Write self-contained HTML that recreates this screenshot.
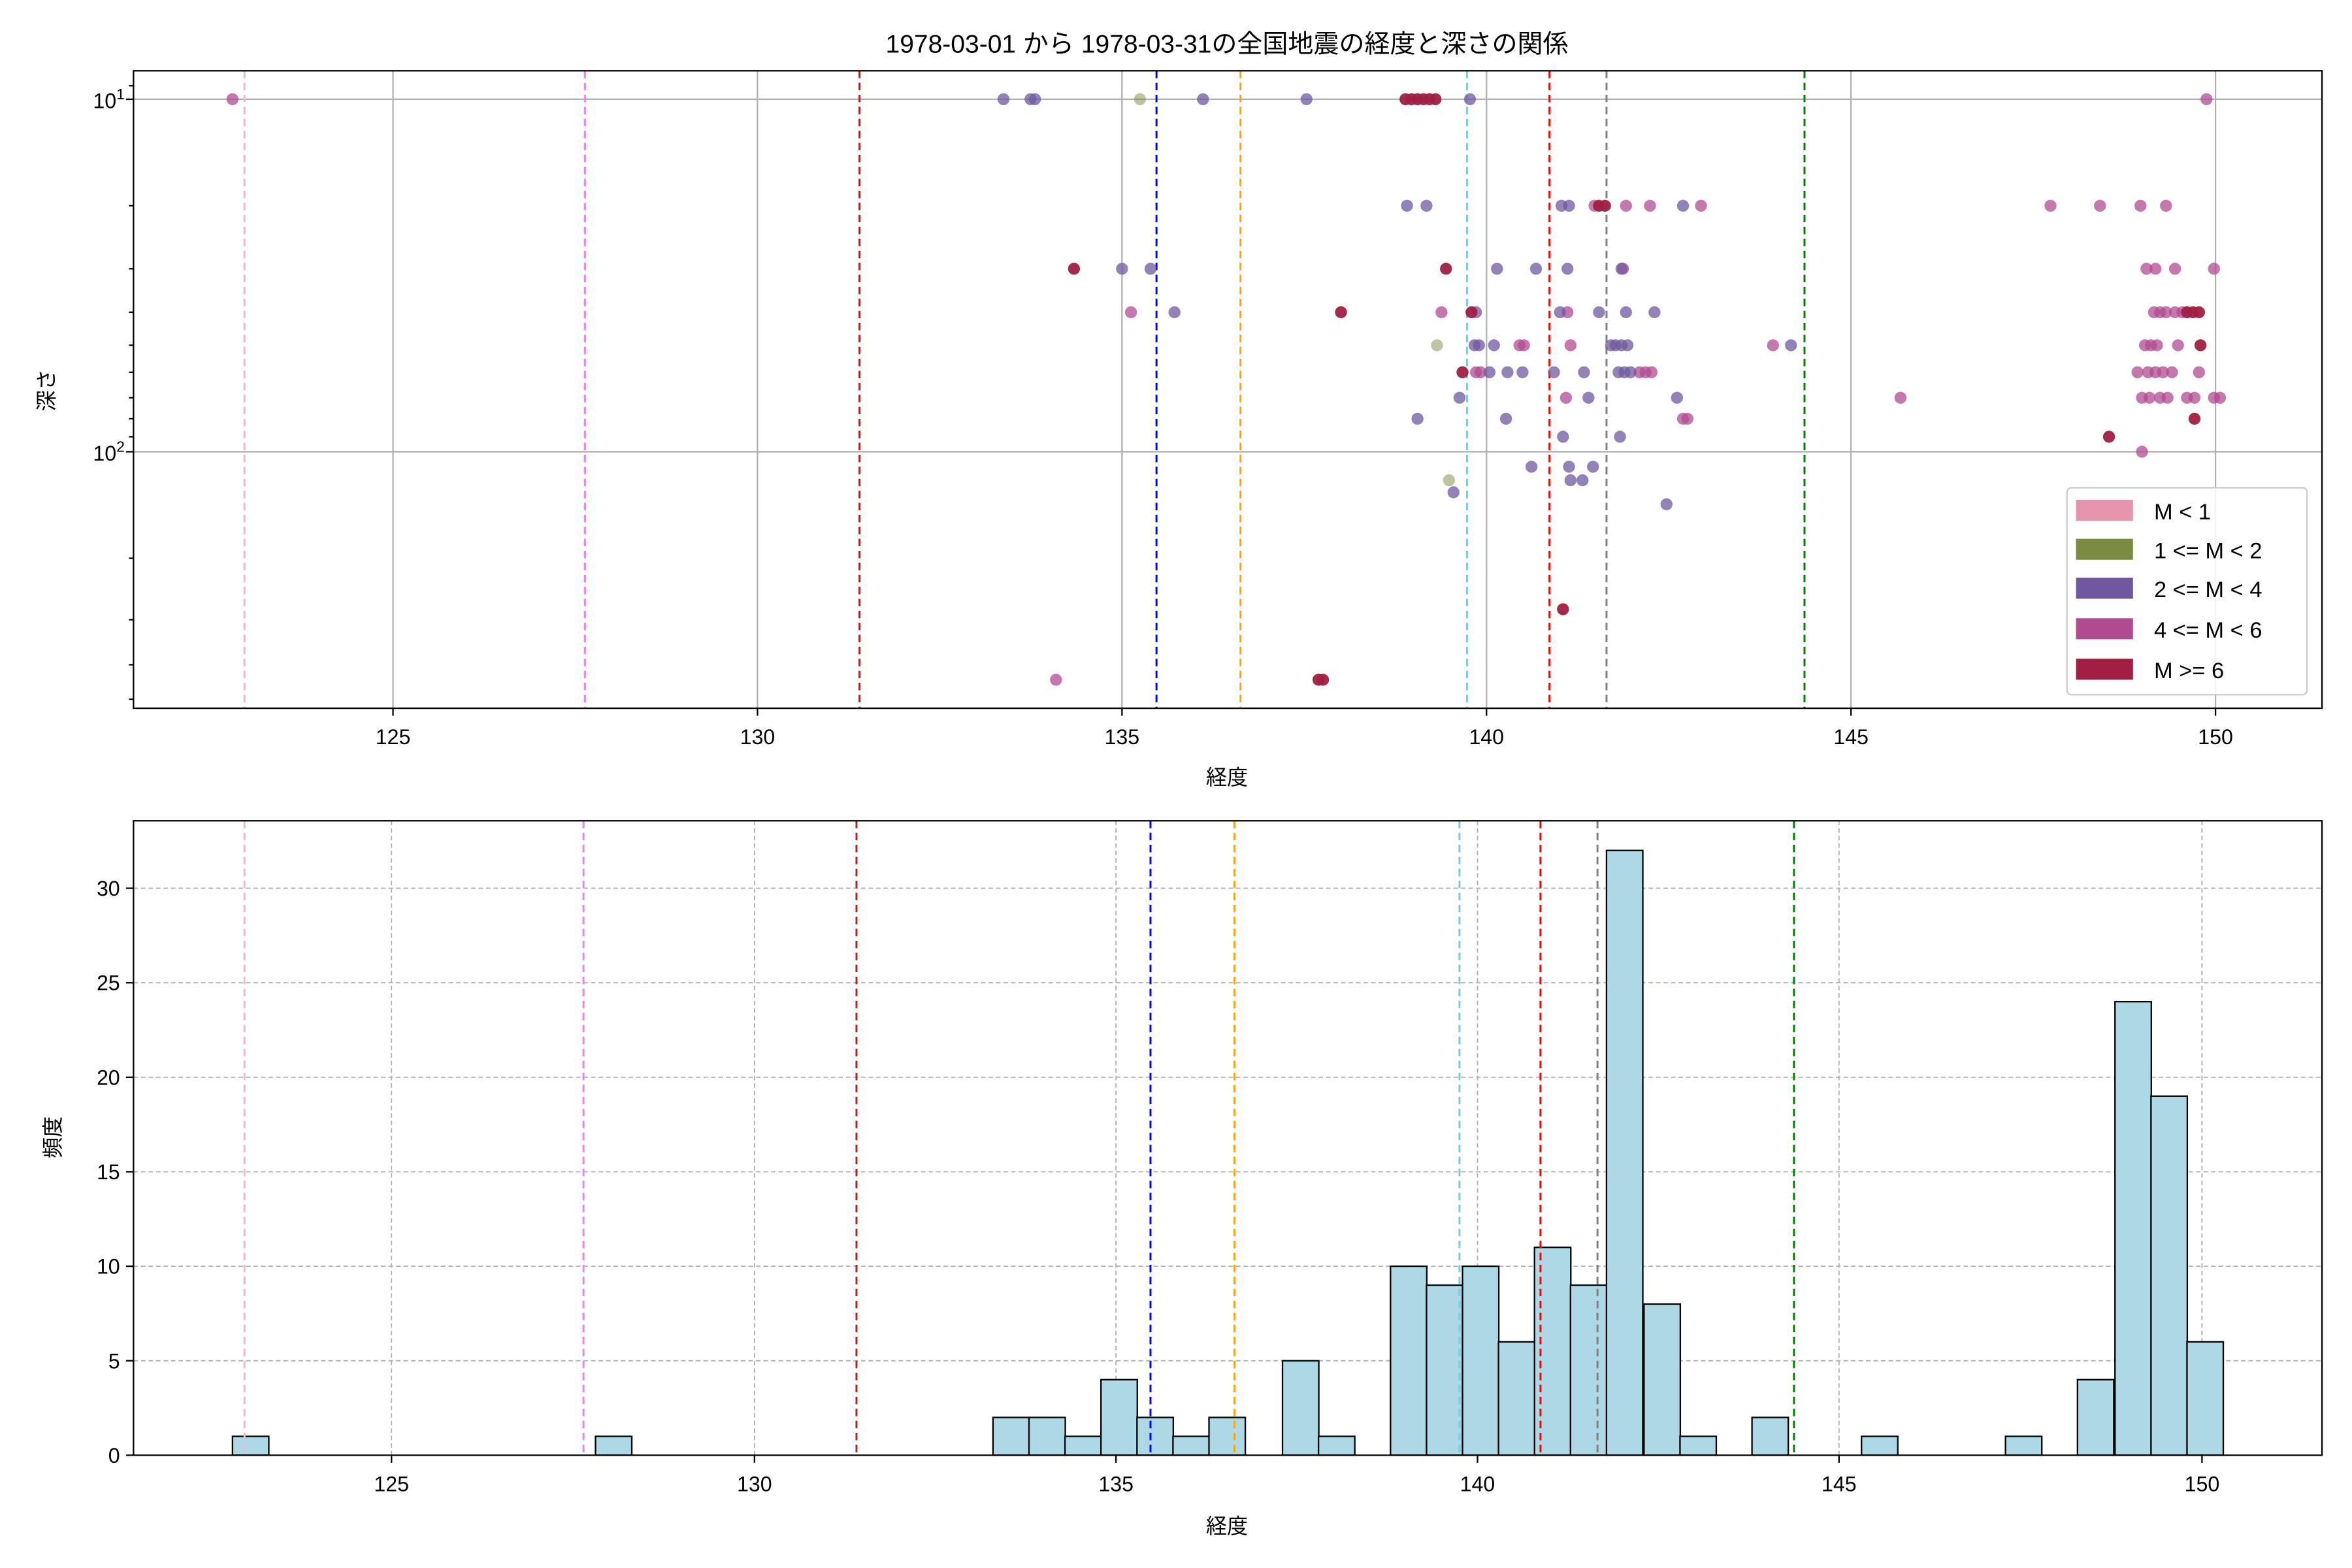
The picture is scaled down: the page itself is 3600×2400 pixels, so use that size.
<!DOCTYPE html>
<html><head><meta charset="utf-8"><style>html,body{margin:0;padding:0;background:#fff}svg{display:block}text{font-family:"Liberation Sans","Noto Sans CJK JP",sans-serif;fill:#000}</style></head>
<body>
<svg width="3600" height="2400" viewBox="0 0 1568 1045" xmlns="http://www.w3.org/2000/svg">
<rect width="1568" height="1045" fill="#fff"/>
<text x="818" y="35" font-size="17" text-anchor="middle">1978-03-01 から 1978-03-31の全国地震の経度と深さの関係</text>
<!-- TOP grid -->
<g stroke="#b0b0b0" stroke-width="1">
<line x1="262" y1="47" x2="262" y2="472"/><line x1="505" y1="47" x2="505" y2="472"/><line x1="748" y1="47" x2="748" y2="472"/><line x1="991" y1="47" x2="991" y2="472"/><line x1="1234" y1="47" x2="1234" y2="472"/><line x1="1477" y1="47" x2="1477" y2="472"/>
<line x1="89" y1="66" x2="1548" y2="66"/><line x1="89" y1="301" x2="1548" y2="301"/>
</g>
<g stroke-width="1.3" stroke-dasharray="5,3">
<line x1="163" y1="47" x2="163" y2="472" stroke="#f6b6cd"/><line x1="390" y1="47" x2="390" y2="472" stroke="#ee82ee"/><line x1="573" y1="47" x2="573" y2="472" stroke="#b22222"/><line x1="771" y1="47" x2="771" y2="472" stroke="#0000ff"/><line x1="827" y1="47" x2="827" y2="472" stroke="#ffa500"/><line x1="978" y1="47" x2="978" y2="472" stroke="#7ec8e0"/><line x1="1033" y1="47" x2="1033" y2="472" stroke="#ff0000"/><line x1="1071" y1="47" x2="1071" y2="472" stroke="#808080"/><line x1="1203" y1="47" x2="1203" y2="472" stroke="#008000"/>
</g>
<!-- points -->
<g fill-opacity="0.75">
<g fill="#b04b92"><circle cx="155" cy="66" r="4"/><circle cx="1471" cy="66" r="4"/><circle cx="1063" cy="137" r="4"/><circle cx="1084" cy="137" r="4"/><circle cx="1100" cy="137" r="4"/><circle cx="1134" cy="137" r="4"/><circle cx="1367" cy="137" r="4"/><circle cx="1400" cy="137" r="4"/><circle cx="1427" cy="137" r="4"/><circle cx="1444" cy="137" r="4"/><circle cx="1082" cy="179" r="4"/><circle cx="1431" cy="179" r="4"/><circle cx="1437" cy="179" r="4"/><circle cx="1450" cy="179" r="4"/><circle cx="1476" cy="179" r="4"/><circle cx="754" cy="208" r="4"/><circle cx="961" cy="208" r="4"/><circle cx="1045" cy="208" r="4"/><circle cx="1436" cy="208" r="4"/><circle cx="1440" cy="208" r="4"/><circle cx="1444" cy="208" r="4"/><circle cx="1450" cy="208" r="4"/><circle cx="1455" cy="208" r="4"/><circle cx="1013" cy="230" r="4"/><circle cx="1016" cy="230" r="4"/><circle cx="1047" cy="230" r="4"/><circle cx="1182" cy="230" r="4"/><circle cx="1430" cy="230" r="4"/><circle cx="1434" cy="230" r="4"/><circle cx="1438" cy="230" r="4"/><circle cx="1452" cy="230" r="4"/><circle cx="984" cy="248" r="4"/><circle cx="987" cy="248" r="4"/><circle cx="1093" cy="248" r="4"/><circle cx="1097" cy="248" r="4"/><circle cx="1101" cy="248" r="4"/><circle cx="1425" cy="248" r="4"/><circle cx="1432" cy="248" r="4"/><circle cx="1437" cy="248" r="4"/><circle cx="1442" cy="248" r="4"/><circle cx="1448" cy="248" r="4"/><circle cx="1466" cy="248" r="4"/><circle cx="1044" cy="265" r="4"/><circle cx="1267" cy="265" r="4"/><circle cx="1428" cy="265" r="4"/><circle cx="1433" cy="265" r="4"/><circle cx="1440" cy="265" r="4"/><circle cx="1445" cy="265" r="4"/><circle cx="1458" cy="265" r="4"/><circle cx="1463" cy="265" r="4"/><circle cx="1476" cy="265" r="4"/><circle cx="1480" cy="265" r="4"/><circle cx="1122" cy="279" r="4"/><circle cx="1125" cy="279" r="4"/><circle cx="1428" cy="301" r="4"/><circle cx="704" cy="453" r="4"/></g>
<g fill="#6f589f"><circle cx="669" cy="66" r="4"/><circle cx="687" cy="66" r="4"/><circle cx="690" cy="66" r="4"/><circle cx="802" cy="66" r="4"/><circle cx="871" cy="66" r="4"/><circle cx="980" cy="66" r="4"/><circle cx="938" cy="137" r="4"/><circle cx="951" cy="137" r="4"/><circle cx="1041" cy="137" r="4"/><circle cx="1046" cy="137" r="4"/><circle cx="1122" cy="137" r="4"/><circle cx="748" cy="179" r="4"/><circle cx="767" cy="179" r="4"/><circle cx="998" cy="179" r="4"/><circle cx="1024" cy="179" r="4"/><circle cx="1045" cy="179" r="4"/><circle cx="1081" cy="179" r="4"/><circle cx="783" cy="208" r="4"/><circle cx="984" cy="208" r="4"/><circle cx="1040" cy="208" r="4"/><circle cx="1066" cy="208" r="4"/><circle cx="1084" cy="208" r="4"/><circle cx="1103" cy="208" r="4"/><circle cx="983" cy="230" r="4"/><circle cx="986" cy="230" r="4"/><circle cx="996" cy="230" r="4"/><circle cx="1074" cy="230" r="4"/><circle cx="1077" cy="230" r="4"/><circle cx="1081" cy="230" r="4"/><circle cx="1085" cy="230" r="4"/><circle cx="1194" cy="230" r="4"/><circle cx="993" cy="248" r="4"/><circle cx="1005" cy="248" r="4"/><circle cx="1015" cy="248" r="4"/><circle cx="1036" cy="248" r="4"/><circle cx="1056" cy="248" r="4"/><circle cx="1079" cy="248" r="4"/><circle cx="1083" cy="248" r="4"/><circle cx="1087" cy="248" r="4"/><circle cx="973" cy="265" r="4"/><circle cx="1059" cy="265" r="4"/><circle cx="1118" cy="265" r="4"/><circle cx="945" cy="279" r="4"/><circle cx="1004" cy="279" r="4"/><circle cx="1042" cy="291" r="4"/><circle cx="1080" cy="291" r="4"/><circle cx="1021" cy="311" r="4"/><circle cx="1046" cy="311" r="4"/><circle cx="1062" cy="311" r="4"/><circle cx="1047" cy="320" r="4"/><circle cx="1055" cy="320" r="4"/><circle cx="969" cy="328" r="4"/><circle cx="1111" cy="336" r="4"/></g>
<g fill="#7b8b42" fill-opacity="0.5"><circle cx="760" cy="66" r="4"/><circle cx="958" cy="230" r="4"/><circle cx="966" cy="320" r="4"/></g>
<g fill="#a01f42" fill-opacity="0.95"><circle cx="937" cy="66" r="4"/><circle cx="941" cy="66" r="4"/><circle cx="945" cy="66" r="4"/><circle cx="949" cy="66" r="4"/><circle cx="953" cy="66" r="4"/><circle cx="957" cy="66" r="4"/><circle cx="1066" cy="137" r="4"/><circle cx="1070" cy="137" r="4"/><circle cx="716" cy="179" r="4"/><circle cx="964" cy="179" r="4"/><circle cx="894" cy="208" r="4"/><circle cx="981" cy="208" r="4"/><circle cx="1458" cy="208" r="4"/><circle cx="1462" cy="208" r="4"/><circle cx="1466" cy="208" r="4"/><circle cx="1467" cy="230" r="4"/><circle cx="975" cy="248" r="4"/><circle cx="1463" cy="279" r="4"/><circle cx="1406" cy="291" r="4"/><circle cx="1042" cy="406" r="4"/><circle cx="879" cy="453" r="4"/><circle cx="882" cy="453" r="4"/></g>
</g>
<!-- legend -->
<rect x="1378" y="325" width="160" height="138" rx="3" fill="#fff" fill-opacity="0.85" stroke="#ccc" stroke-width="1"/>
<rect x="1384" y="333" width="38" height="14" fill="#e596ae"/><rect x="1384" y="359" width="38" height="14" fill="#7b8b42"/><rect x="1384" y="385" width="38" height="14" fill="#6f589f"/><rect x="1384" y="412" width="38" height="14" fill="#b04b92"/><rect x="1384" y="439" width="38" height="14" fill="#a01f42"/>
<g font-size="15"><text x="1436" y="346">M &lt; 1</text><text x="1436" y="372">1 &lt;= M &lt; 2</text><text x="1436" y="398">2 &lt;= M &lt; 4</text><text x="1436" y="425">4 &lt;= M &lt; 6</text><text x="1436" y="452">M &gt;= 6</text></g>
<!-- top axes frame & ticks -->
<rect x="89" y="47" width="1459" height="425" fill="none" stroke="#000" stroke-width="1"/>
<g stroke="#000" stroke-width="1"><line x1="262" y1="472" x2="262" y2="477"/><line x1="505" y1="472" x2="505" y2="477"/><line x1="748" y1="472" x2="748" y2="477"/><line x1="991" y1="472" x2="991" y2="477"/><line x1="1234" y1="472" x2="1234" y2="477"/><line x1="1477" y1="472" x2="1477" y2="477"/>
<line x1="84" y1="66" x2="89" y2="66"/><line x1="84" y1="301" x2="89" y2="301"/>
<line x1="86" y1="137" x2="89" y2="137"/><line x1="86" y1="179" x2="89" y2="179"/><line x1="86" y1="208" x2="89" y2="208"/><line x1="86" y1="230" x2="89" y2="230"/><line x1="86" y1="248" x2="89" y2="248"/><line x1="86" y1="265" x2="89" y2="265"/><line x1="86" y1="279" x2="89" y2="279"/><line x1="86" y1="291" x2="89" y2="291"/><line x1="86" y1="372" x2="89" y2="372"/><line x1="86" y1="413" x2="89" y2="413"/><line x1="86" y1="443" x2="89" y2="443"/><line x1="86" y1="466" x2="89" y2="466"/><line x1="86" y1="57" x2="89" y2="57"/></g>
<g font-size="14" text-anchor="middle"><text x="262" y="496">125</text><text x="505" y="496">130</text><text x="748" y="496">135</text><text x="991" y="496">140</text><text x="1234" y="496">145</text><text x="1477" y="496">150</text></g>
<text x="62" y="72" font-size="14">10<tspan font-size="10" dy="-6">1</tspan></text>
<text x="62" y="307" font-size="14">10<tspan font-size="10" dy="-6">2</tspan></text>
<text x="818" y="523" font-size="14" text-anchor="middle">経度</text>
<text x="36" y="260" font-size="14" text-anchor="middle" transform="rotate(-90 36 260)">深さ</text>
<!-- BOTTOM -->
<g stroke="#b0b0b0" stroke-width="0.8" stroke-dasharray="3,2">
<line x1="261" y1="547" x2="261" y2="970"/><line x1="503" y1="547" x2="503" y2="970"/><line x1="744" y1="547" x2="744" y2="970"/><line x1="985" y1="547" x2="985" y2="970"/><line x1="1226" y1="547" x2="1226" y2="970"/><line x1="1468" y1="547" x2="1468" y2="970"/>
<line x1="89" y1="907" x2="1548" y2="907"/><line x1="89" y1="844" x2="1548" y2="844"/><line x1="89" y1="781" x2="1548" y2="781"/><line x1="89" y1="718" x2="1548" y2="718"/><line x1="89" y1="655" x2="1548" y2="655"/><line x1="89" y1="592" x2="1548" y2="592"/>
</g>
<g fill="#add8e6" stroke="#000" stroke-width="1">
<rect x="155" y="957.4" width="24.2" height="12.6"/><rect x="397" y="957.4" width="24.2" height="12.6"/>
<rect x="662" y="944.8" width="24.2" height="25.2"/><rect x="686" y="944.8" width="24.2" height="25.2"/><rect x="710" y="957.4" width="24.2" height="12.6"/><rect x="734" y="919.6" width="24.2" height="50.4"/><rect x="758" y="944.8" width="24.2" height="25.2"/><rect x="782" y="957.4" width="24.2" height="12.6"/><rect x="806" y="944.8" width="24.2" height="25.2"/>
<rect x="855" y="907" width="24.2" height="63"/><rect x="879" y="957.4" width="24.2" height="12.6"/>
<rect x="927" y="844" width="24.2" height="126"/><rect x="951" y="856.6" width="24.2" height="113.4"/><rect x="975" y="844" width="24.2" height="126"/><rect x="999" y="894.4" width="24.2" height="75.6"/><rect x="1023" y="831.4" width="24.2" height="138.6"/><rect x="1047" y="856.6" width="24.2" height="113.4"/><rect x="1071" y="566.8" width="24.2" height="403.2"/><rect x="1096" y="869.2" width="24.2" height="100.8"/><rect x="1120" y="957.4" width="24.2" height="12.6"/>
<rect x="1168" y="944.8" width="24.2" height="25.2"/><rect x="1241" y="957.4" width="24.2" height="12.6"/><rect x="1337" y="957.4" width="24.2" height="12.6"/>
<rect x="1385" y="919.6" width="24.2" height="50.4"/><rect x="1410" y="667.6" width="24.2" height="302.4"/><rect x="1434" y="730.6" width="24.2" height="239.4"/><rect x="1458" y="894.4" width="24.2" height="75.6"/>
</g>
<g stroke-width="1.3" stroke-dasharray="5,3">
<line x1="163" y1="547" x2="163" y2="970" stroke="#f6b6cd"/><line x1="389" y1="547" x2="389" y2="970" stroke="#ee82ee"/><line x1="571" y1="547" x2="571" y2="970" stroke="#b22222"/><line x1="767" y1="547" x2="767" y2="970" stroke="#0000ff"/><line x1="823" y1="547" x2="823" y2="970" stroke="#ffa500"/><line x1="973" y1="547" x2="973" y2="970" stroke="#7ec8e0"/><line x1="1027" y1="547" x2="1027" y2="970" stroke="#ff0000"/><line x1="1065" y1="547" x2="1065" y2="970" stroke="#808080"/><line x1="1196" y1="547" x2="1196" y2="970" stroke="#008000"/>
</g>
<rect x="89" y="547" width="1459" height="423" fill="none" stroke="#000" stroke-width="1"/>
<g stroke="#000" stroke-width="1"><line x1="261" y1="970" x2="261" y2="975"/><line x1="503" y1="970" x2="503" y2="975"/><line x1="744" y1="970" x2="744" y2="975"/><line x1="985" y1="970" x2="985" y2="975"/><line x1="1226" y1="970" x2="1226" y2="975"/><line x1="1468" y1="970" x2="1468" y2="975"/>
<line x1="84" y1="970" x2="89" y2="970"/><line x1="84" y1="907" x2="89" y2="907"/><line x1="84" y1="844" x2="89" y2="844"/><line x1="84" y1="781" x2="89" y2="781"/><line x1="84" y1="718" x2="89" y2="718"/><line x1="84" y1="655" x2="89" y2="655"/><line x1="84" y1="592" x2="89" y2="592"/></g>
<g font-size="14" text-anchor="middle"><text x="261" y="994">125</text><text x="503" y="994">130</text><text x="744" y="994">135</text><text x="985" y="994">140</text><text x="1226" y="994">145</text><text x="1468" y="994">150</text></g>
<g font-size="14" text-anchor="end"><text x="80" y="975">0</text><text x="80" y="912">5</text><text x="80" y="849">10</text><text x="80" y="786">15</text><text x="80" y="723">20</text><text x="80" y="660">25</text><text x="80" y="597">30</text></g>
<text x="818" y="1022" font-size="14" text-anchor="middle">経度</text>
<text x="40" y="758" font-size="14" text-anchor="middle" transform="rotate(-90 40 758)">頻度</text>
</svg>
</body></html>
